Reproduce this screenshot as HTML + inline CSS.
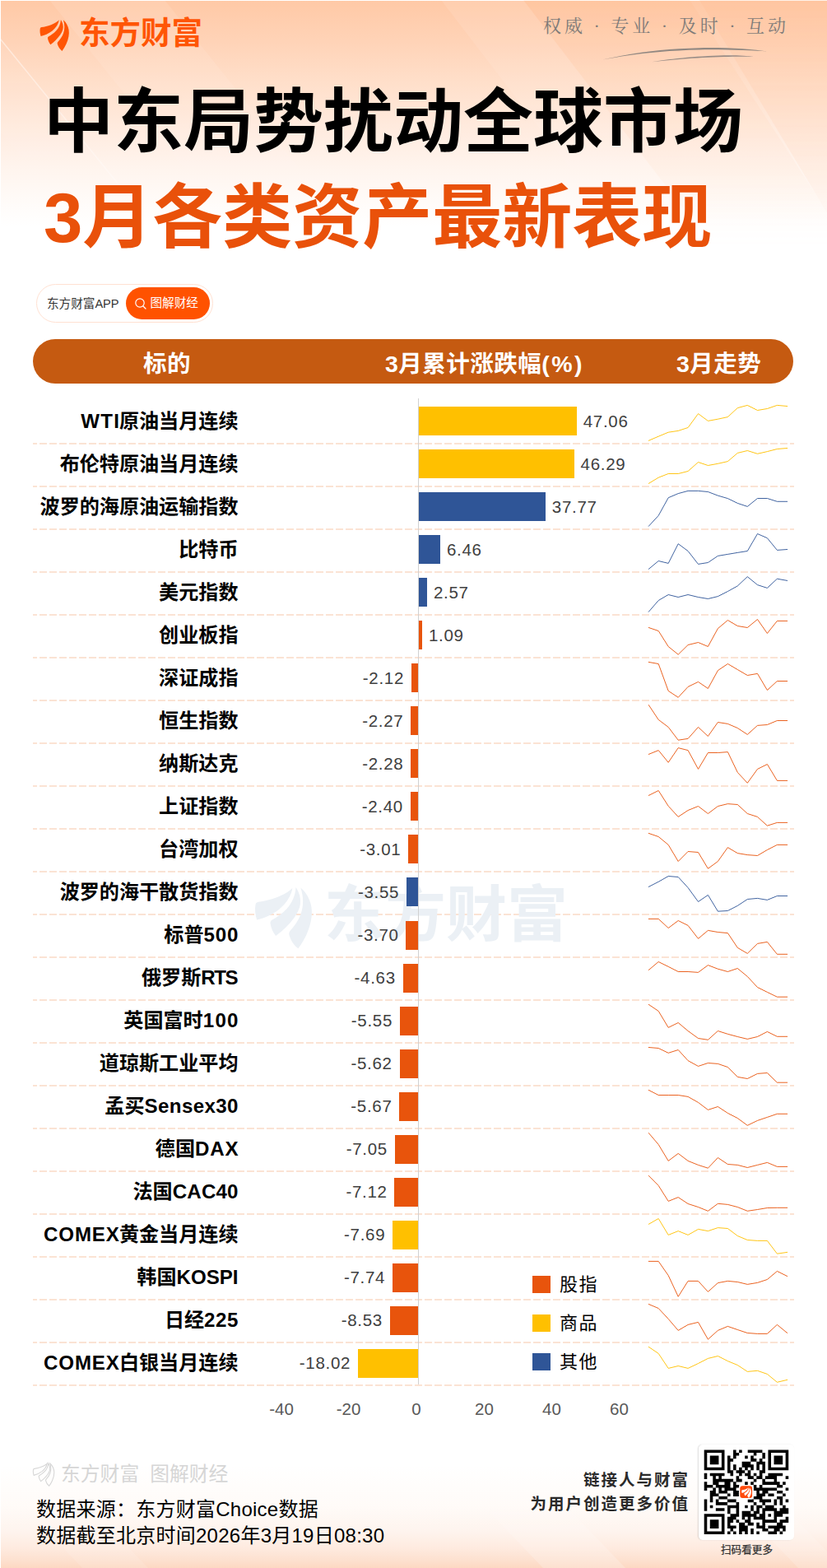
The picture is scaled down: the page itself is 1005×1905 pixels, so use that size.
<!DOCTYPE html>
<html lang="zh-CN">
<head>
<meta charset="utf-8">
<title>中东局势扰动全球市场</title>
<style>
*{margin:0;padding:0;box-sizing:border-box}
html,body{width:1005px;height:1905px;overflow:hidden;background:#fff}
body{font-family:"Liberation Sans","Noto Sans CJK SC",sans-serif;color:#000}
#page{position:relative;width:1005px;height:1905px;overflow:hidden;background:#fff}
.abs{position:absolute}
#bgtop{position:absolute;left:1px;top:1px;width:1004px;height:275px;background:linear-gradient(180deg,#ffc9a6 0%,#ffd3b7 18%,#ffdfca 36%,#ffeadd 55%,#fff4ed 73%,#fffcfa 91%,#ffffff 100%)}
#bgbot{position:absolute;left:1px;top:1780px;width:1004px;height:125px;background:linear-gradient(180deg,#ffffff 0%,#fffbf8 40%,#fef4ee 64%,#feebe0 80%,#fde1d0 92%,#fdd8c2 100%)}
#logo{position:absolute;left:44px;top:18px;width:60px;height:50px}
#logotxt{position:absolute;left:96px;top:14px;font-size:37.5px;line-height:52px;font-weight:700;color:#ff5505;white-space:nowrap}
#slogan{position:absolute;left:660px;top:14px;width:304px;font-family:"Liberation Serif","Noto Serif CJK SC",serif;font-size:22px;line-height:36px;color:#7e7b79;white-space:nowrap;letter-spacing:4px}
h1{position:absolute;left:53px;top:91px;font-size:85px;line-height:116px;font-weight:700;white-space:nowrap;color:#000}
h1 .l2{display:block;color:#e9510a}
h1 .l1{display:block;color:#000}
#pill{position:absolute;left:44px;top:345px;width:215px;height:47px;border:1px solid #ffe1d2;border-radius:24px;background:#fff}
#pill .t1{position:absolute;left:12px;top:0;font-size:14.6px;line-height:47px;color:#333;white-space:nowrap}
#pill .btn{position:absolute;left:108px;top:2.5px;width:102px;height:39.5px;border-radius:20px;background:#ff5200;color:#fff;font-size:14.6px;line-height:39px;white-space:nowrap}
#pill .btn span{position:absolute;left:29.5px;top:0}
#hdr{position:absolute;left:40px;top:412px;width:924px;height:54px;border-radius:27px;background:#c55a11;color:#fff;font-weight:700;font-size:28.5px;line-height:54px;letter-spacing:0.5px}
#hdr span{position:absolute;top:3px;white-space:nowrap}
#hdr span i{font-style:normal;letter-spacing:2.4px}
.dash{position:absolute;left:40px;width:925px;height:2px;background:repeating-linear-gradient(90deg,#fbe3d4 0,#fbe3d4 9px,transparent 9px,transparent 12px);background-position:-4px 0}
.lab{position:absolute;right:715.5px;height:40px;line-height:40px;font-size:24.1px;font-weight:700;white-space:nowrap;text-align:right;color:#000}
.bar{position:absolute;height:35px}
.val{position:absolute;height:28px;line-height:28px;font-size:20.5px;color:#404040;white-space:nowrap;letter-spacing:0.7px}
#axis{position:absolute;left:508px;top:484px;width:1px;height:1198px;background:#d0d0d0}
#sparks{position:absolute;left:0;top:0}
#sparks path{fill:none;stroke-width:0.92;stroke-linejoin:round;stroke-linecap:round}
.xt{position:absolute;top:1698px;width:60px;margin-left:-30px;text-align:center;font-size:20.5px;line-height:28px;color:#595959}
.lg{position:absolute;left:647px;width:22px;height:21px}
.lgt{position:absolute;left:680px;font-size:22px;letter-spacing:1.5px;line-height:30px;color:#000;white-space:nowrap}
#wmk{position:absolute;left:74px;top:1774px;font-size:23.8px;line-height:34px;color:#d6d6d6;white-space:nowrap}
.src{position:absolute;left:44px;font-size:24px;line-height:32px;color:#000;white-space:nowrap;letter-spacing:0.25px}
.tag{position:absolute;right:167px;font-size:19.5px;font-weight:700;line-height:28px;color:#2a2a2a;white-space:nowrap;letter-spacing:2px;text-align:right}
#qr{position:absolute;left:848.5px;top:1754.5px;width:116.5px;height:116px;border-radius:5px;background:#fff;box-shadow:-1px 0 1.5px rgba(120,120,120,.25)}
#qrt{position:absolute;left:849px;top:1873.5px;width:117px;text-align:center;font-size:12.6px;line-height:18px;color:#333;-webkit-text-stroke:0.25px #333}
</style>
</head>
<body>
<div id="page">
<div id="bgtop"></div>
<div id="bgbot"></div>
<svg id="bands" class="abs" style="left:0;top:0" width="1005" height="300" viewBox="0 0 1005 300" aria-hidden="true"><defs><linearGradient id="fd" x1="0" y1="0" x2="0" y2="1"><stop offset="0" stop-color="#fff" stop-opacity="1"/><stop offset="0.75" stop-color="#fff" stop-opacity="0.5"/><stop offset="1" stop-color="#fff" stop-opacity="0"/></linearGradient><mask id="fm"><rect x="0" y="0" width="1005" height="300" fill="url(#fd)"/></mask></defs><g mask="url(#fm)">
<polygon points="536,0 636,0 866,300 766,300" fill="#fff" fill-opacity="0.10"/>
<polygon points="636,0 838,0 1033,300 866,300" fill="#ffa366" fill-opacity="0.08"/>
<polygon points="850,0 1005,0 1005,300 1030,300" fill="#ffb98e" fill-opacity="0.2"/>
<polygon points="60,0 200,0 440,300 300,300" fill="#fff" fill-opacity="0.10"/>
<path d="M0 47 L210 305" stroke="#fff" stroke-opacity="0.55" stroke-width="1.6" fill="none"/>
<polygon points="0,49 0,160 120,300 205,300" fill="#fff" fill-opacity="0.08"/>
</g></svg>
<svg id="bands2" class="abs" style="left:0;top:1780px" width="1005" height="125" viewBox="0 1780 1005 125" aria-hidden="true"><defs><linearGradient id="fd2" x1="0" y1="0" x2="0" y2="1"><stop offset="0" stop-color="#fff" stop-opacity="0"/><stop offset="0.5" stop-color="#fff" stop-opacity="0.5"/><stop offset="1" stop-color="#fff" stop-opacity="1"/></linearGradient><mask id="fm2"><rect x="0" y="1780" width="1005" height="125" fill="url(#fd2)"/></mask></defs><g mask="url(#fm2)">
<polygon points="540,1780 640,1780 760,1905 660,1905" fill="#fff" fill-opacity="0.22"/>
<polygon points="850,1780 905,1780 1005,1885 1005,1905 970,1905" fill="#fff" fill-opacity="0.18"/>
<polygon points="0,1800 0,1780 60,1780 180,1905 100,1905" fill="#fff" fill-opacity="0.12"/>
</g></svg>
<svg id="logo" viewBox="44 18 60 50" aria-hidden="true"><g fill="#ff5505">
<path d="M71.8 24.3 C71.2 28.5 68.5 33.5 63.5 37.6 C59 41 54 43.2 49.6 44.1 C48.6 41 48.2 37.5 48.8 34.6 C49 33.6 49.6 33.2 50.6 33 C54 32.6 58 31.8 62 30.2 C66.5 28.4 70 26.4 71.8 24.3 Z"/>
<path d="M73.9 23.9 C76.2 27.2 77.4 31.5 76.4 35.8 C75.3 40 72 44.5 67.5 49 C65.6 50.8 63.5 52.6 61.4 54.2 C59.6 51.8 58.4 49 58 46.4 C57.9 45.4 58.3 44.7 59.2 44.2 C62 42.6 65.5 40.2 68.3 37.2 C71.6 33.6 73.6 29 73.9 23.9 Z"/>
<path d="M76.9 24.2 C80.2 27 82.8 31.2 83.6 36.2 C84.4 41.5 83.2 47.5 80.6 53.2 C79.2 56.3 77.4 59.3 75.4 62 C72.6 59.8 70.6 56.8 69.8 53.6 C69.5 52.5 69.8 51.6 70.5 50.8 C73 48 75.5 44.5 77 40.5 C78.8 35.6 78.8 30 76.9 24.2 Z"/>
</g></svg>
<div id="logotxt">东方财富</div>
<svg id="slg" class="abs" style="left:650px;top:8px" width="330" height="80" viewBox="650 8 330 80" aria-hidden="true"><g fill="#7e7b79"><path d="M732 72.6 C760 66 800 59.2 850 58.2 C885 57.6 915 60 933 62.6 C915 61.4 885 60 850 60.4 C800 61.4 760 67 732 72.6 Z" opacity="0.85"/><path d="M788 75.8 C810 72 845 68 880 67.2 C895 67 908 67.6 917 69 C905 68.6 895 68.6 880 69 C845 70 810 73 788 75.8 Z" opacity="0.8"/></g></svg>
<div id="slogan">权威 · 专业 · 及时 · 互动</div>
<h1><span class="l1">中东局势扰动全球市场</span><span class="l2">3月各类资产最新表现</span></h1>
<div id="pill"><span class="t1">东方财富APP</span><div class="btn"><svg class="abs" style="left:10px;top:12px" width="16" height="16" viewBox="0 0 16 16"><circle cx="7" cy="7" r="5.2" fill="none" stroke="#fff" stroke-width="1.2"/><path d="M11 11 L14 14" stroke="#fff" stroke-width="1.2" stroke-linecap="round"/></svg><span>图解财经</span></div></div>
<div id="hdr"><span style="left:134px">标的</span><span style="left:428px">3月累计涨跌幅<i>(%)</i></span><span style="left:782px">3月走势</span></div>
<div id="chart">
<div class="dash" style="top:538px"></div>
<div class="dash" style="top:590px"></div>
<div class="dash" style="top:642px"></div>
<div class="dash" style="top:694px"></div>
<div class="dash" style="top:746px"></div>
<div class="dash" style="top:798px"></div>
<div class="dash" style="top:850px"></div>
<div class="dash" style="top:902px"></div>
<div class="dash" style="top:954px"></div>
<div class="dash" style="top:1006px"></div>
<div class="dash" style="top:1058px"></div>
<div class="dash" style="top:1110px"></div>
<div class="dash" style="top:1162px"></div>
<div class="dash" style="top:1214px"></div>
<div class="dash" style="top:1266px"></div>
<div class="dash" style="top:1318px"></div>
<div class="dash" style="top:1370px"></div>
<div class="dash" style="top:1422px"></div>
<div class="dash" style="top:1474px"></div>
<div class="dash" style="top:1526px"></div>
<div class="dash" style="top:1578px"></div>
<div class="dash" style="top:1630px"></div>
<div class="dash" style="top:1682px"></div>
<svg id="cwms" class="abs" style="left:300px;top:1060px" width="410" height="100" viewBox="300 1060 410 100" aria-hidden="true"><g fill="#ebf0f5"><g transform="translate(215.4 1031.4) scale(1.95)"><path d="M71.8 24.3 C71.2 28.5 68.5 33.5 63.5 37.6 C59 41 54 43.2 49.6 44.1 C48.6 41 48.2 37.5 48.8 34.6 C49 33.6 49.6 33.2 50.6 33 C54 32.6 58 31.8 62 30.2 C66.5 28.4 70 26.4 71.8 24.3 Z"/><path d="M73.9 23.9 C76.2 27.2 77.4 31.5 76.4 35.8 C75.3 40 72 44.5 67.5 49 C65.6 50.8 63.5 52.6 61.4 54.2 C59.6 51.8 58.4 49 58 46.4 C57.9 45.4 58.3 44.7 59.2 44.2 C62 42.6 65.5 40.2 68.3 37.2 C71.6 33.6 73.6 29 73.9 23.9 Z"/><path d="M76.9 24.2 C80.2 27 82.8 31.2 83.6 36.2 C84.4 41.5 83.2 47.5 80.6 53.2 C79.2 56.3 77.4 59.3 75.4 62 C72.6 59.8 70.6 56.8 69.8 53.6 C69.5 52.5 69.8 51.6 70.5 50.8 C73 48 75.5 44.5 77 40.5 C78.8 35.6 78.8 30 76.9 24.2 Z"/></g></g></svg>
<div id="cwm" class="abs" style="left:394px;top:1060px;font-size:74px;line-height:104px;font-weight:700;color:#ebf0f5;white-space:nowrap">东方财富</div>
<div class="lab" style="top:491.5px"><span style="letter-spacing:1.2px;margin-right:-1.2px">WTI</span>原油当月连续</div>
<div class="bar" style="left:508.5px;top:494.0px;width:192.2px;background:#FFC000"></div>
<div class="val" style="left:708.7px;top:497.5px">47.06</div>
<div class="lab" style="top:543.5px">布伦特原油当月连续</div>
<div class="bar" style="left:508.5px;top:546.0px;width:189.1px;background:#FFC000"></div>
<div class="val" style="left:705.6px;top:549.5px">46.29</div>
<div class="lab" style="top:595.6px">波罗的海原油运输指数</div>
<div class="bar" style="left:508.5px;top:598.1px;width:154.3px;background:#2F5597"></div>
<div class="val" style="left:670.8px;top:601.6px">37.77</div>
<div class="lab" style="top:647.6px">比特币</div>
<div class="bar" style="left:508.5px;top:650.1px;width:26.4px;background:#2F5597"></div>
<div class="val" style="left:542.9px;top:653.6px">6.46</div>
<div class="lab" style="top:699.7px">美元指数</div>
<div class="bar" style="left:508.5px;top:702.2px;width:10.5px;background:#2F5597"></div>
<div class="val" style="left:527.0px;top:705.7px">2.57</div>
<div class="lab" style="top:751.7px">创业板指</div>
<div class="bar" style="left:508.5px;top:754.2px;width:4.5px;background:#E8540C"></div>
<div class="val" style="left:521.0px;top:757.7px">1.09</div>
<div class="lab" style="top:803.7px">深证成指</div>
<div class="bar" style="left:499.8px;top:806.2px;width:8.7px;background:#E8540C"></div>
<div class="val neg" style="right:514.0px;top:809.7px">-2.12</div>
<div class="lab" style="top:855.8px">恒生指数</div>
<div class="bar" style="left:499.2px;top:858.3px;width:9.3px;background:#E8540C"></div>
<div class="val neg" style="right:514.6px;top:861.8px">-2.27</div>
<div class="lab" style="top:907.8px">纳斯达克</div>
<div class="bar" style="left:499.2px;top:910.3px;width:9.3px;background:#E8540C"></div>
<div class="val neg" style="right:514.6px;top:913.8px">-2.28</div>
<div class="lab" style="top:959.9px">上证指数</div>
<div class="bar" style="left:498.7px;top:962.4px;width:9.8px;background:#E8540C"></div>
<div class="val neg" style="right:515.1px;top:965.9px">-2.40</div>
<div class="lab" style="top:1011.9px">台湾加权</div>
<div class="bar" style="left:496.2px;top:1014.4px;width:12.3px;background:#E8540C"></div>
<div class="val neg" style="right:517.6px;top:1017.9px">-3.01</div>
<div class="lab" style="top:1063.9px">波罗的海干散货指数</div>
<div class="bar" style="left:494.0px;top:1066.4px;width:14.5px;background:#2F5597"></div>
<div class="val neg" style="right:519.8px;top:1069.9px">-3.55</div>
<div class="lab" style="top:1116.0px">标普<span style="letter-spacing:0.9px;margin-right:-0.9px">500</span></div>
<div class="bar" style="left:493.4px;top:1118.5px;width:15.1px;background:#E8540C"></div>
<div class="val neg" style="right:520.4px;top:1122.0px">-3.70</div>
<div class="lab" style="top:1168.0px">俄罗斯<span style="letter-spacing:-1.5px;margin-right:1.5px">RTS</span></div>
<div class="bar" style="left:489.6px;top:1170.5px;width:18.9px;background:#E8540C"></div>
<div class="val neg" style="right:524.2px;top:1174.0px">-4.63</div>
<div class="lab" style="top:1220.1px">英国富时<span style="letter-spacing:1.3px;margin-right:-1.3px">100</span></div>
<div class="bar" style="left:485.8px;top:1222.6px;width:22.7px;background:#E8540C"></div>
<div class="val neg" style="right:528.0px;top:1226.1px">-5.55</div>
<div class="lab" style="top:1272.1px">道琼斯工业平均</div>
<div class="bar" style="left:485.5px;top:1274.6px;width:23.0px;background:#E8540C"></div>
<div class="val neg" style="right:528.3px;top:1278.1px">-5.62</div>
<div class="lab" style="top:1324.1px">孟买<span style="letter-spacing:0.4px;margin-right:-0.4px">Sensex30</span></div>
<div class="bar" style="left:485.3px;top:1326.6px;width:23.2px;background:#E8540C"></div>
<div class="val neg" style="right:528.5px;top:1330.1px">-5.67</div>
<div class="lab" style="top:1376.2px">德国<span style="letter-spacing:0.8px;margin-right:-0.8px">DAX</span></div>
<div class="bar" style="left:479.7px;top:1378.7px;width:28.8px;background:#E8540C"></div>
<div class="val neg" style="right:534.1px;top:1382.2px">-7.05</div>
<div class="lab" style="top:1428.2px">法国<span style="letter-spacing:0.2px;margin-right:-0.2px">CAC40</span></div>
<div class="bar" style="left:479.4px;top:1430.7px;width:29.1px;background:#E8540C"></div>
<div class="val neg" style="right:534.4px;top:1434.2px">-7.12</div>
<div class="lab" style="top:1480.3px"><span style="letter-spacing:0.9px;margin-right:-0.9px">COMEX</span>黄金当月连续</div>
<div class="bar" style="left:477.1px;top:1482.8px;width:31.4px;background:#FFC000"></div>
<div class="val neg" style="right:536.7px;top:1486.3px">-7.69</div>
<div class="lab" style="top:1532.3px">韩国KOSPI</div>
<div class="bar" style="left:476.9px;top:1534.8px;width:31.6px;background:#E8540C"></div>
<div class="val neg" style="right:536.9px;top:1538.3px">-7.74</div>
<div class="lab" style="top:1584.3px">日经<span style="letter-spacing:0.6px;margin-right:-0.6px">225</span></div>
<div class="bar" style="left:473.7px;top:1586.8px;width:34.8px;background:#E8540C"></div>
<div class="val neg" style="right:540.1px;top:1590.3px">-8.53</div>
<div class="lab" style="top:1636.4px"><span style="letter-spacing:0.9px;margin-right:-0.9px">COMEX</span>白银当月连续</div>
<div class="bar" style="left:434.9px;top:1638.9px;width:73.6px;background:#FFC000"></div>
<div class="val neg" style="right:578.9px;top:1642.4px">-18.02</div>
<div id="axis"></div>
<svg id="sparks" width="1005" height="1905" viewBox="0 0 1005 1905">
<path d="M788.3,535.3 L800.2,530.2 L812.2,525.2 L824.2,523.4 L836.1,519.5 L848.5,502.6 L860.4,511.4 L872.4,509.2 L884.4,506.6 L896.3,495.6 L908.3,492.4 L920.5,498.5 L932.4,496.5 L944.4,492.4 L956.7,493.5" stroke="#FFC000"/>
<path d="M788.3,587.4 L800.2,580.2 L812.2,575.5 L824.2,575.5 L836.1,572.5 L848.5,561.5 L860.4,565.5 L872.4,563.3 L884.4,560.6 L896.3,550.4 L908.3,547.5 L920.5,551.3 L932.4,548.6 L944.4,545.5 L956.7,544.5" stroke="#FFC000"/>
<path d="M788.3,639.3 L800.2,626.4 L812.2,604.7 L824.2,599.6 L836.1,596.4 L848.5,596.4 L860.4,597.5 L872.4,602.1 L884.4,605.6 L896.3,611.4 L908.3,615.4 L920.5,605.5 L932.4,605.5 L944.4,609.3 L956.7,609.3" stroke="#2F5597"/>
<path d="M788.3,691.4 L800.2,681.5 L812.2,684.4 L824.2,660.7 L836.1,669.5 L848.5,685.4 L860.4,683.5 L872.4,675.4 L884.4,673.4 L896.3,671.4 L908.3,669.5 L920.5,648.5 L932.4,653.7 L944.4,668.4 L956.7,667.5" stroke="#2F5597"/>
<path d="M788.3,743.3 L800.2,729.5 L812.2,722.5 L824.2,725.5 L836.1,722.5 L848.5,725.5 L860.4,727.5 L872.4,724.6 L884.4,718.5 L896.3,711.9 L908.3,700.6 L920.5,710.6 L932.4,714.4 L944.4,703.2 L956.7,705.4" stroke="#2F5597"/>
<path d="M788.3,762.5 L800.2,766.5 L812.2,785.5 L824.2,795.2 L836.1,783.5 L848.5,780.5 L860.4,785.5 L872.4,763.6 L884.4,753.5 L896.3,760.5 L908.3,762.5 L920.5,752.5 L932.4,769.5 L944.4,754.4 L956.7,754.4" stroke="#E8540C"/>
<path d="M788.3,804.4 L800.2,806.5 L812.2,839.4 L824.2,847.3 L836.1,834.4 L848.5,828.4 L860.4,836.5 L872.4,814.6 L884.4,806.5 L896.3,813.5 L908.3,820.5 L920.5,818.4 L932.4,838.5 L944.4,827.5 L956.7,827.5" stroke="#E8540C"/>
<path d="M788.3,856.5 L800.2,874.4 L812.2,883.4 L824.2,899.2 L836.1,897.4 L848.5,883.4 L860.4,894.5 L872.4,877.5 L884.4,879.4 L896.3,884.5 L908.3,892.4 L920.5,881.4 L932.4,880.5 L944.4,875.5 L956.7,875.5" stroke="#E8540C"/>
<path d="M788.3,916.4 L800.2,911.6 L812.2,926.3 L824.2,908.6 L836.1,911.6 L848.5,934.4 L860.4,914.5 L872.4,914.5 L884.4,913.6 L896.3,938.4 L908.3,951.3 L920.5,934.4 L932.4,928.5 L944.4,948.4 L956.7,948.4" stroke="#E8540C"/>
<path d="M788.3,966.4 L800.2,960.5 L812.2,979.3 L824.2,992.4 L836.1,984.5 L848.5,979.5 L860.4,988.5 L872.4,979.5 L884.4,976.6 L896.3,977.5 L908.3,988.5 L920.5,992.4 L932.4,1003.2 L944.4,999.4 L956.7,999.4" stroke="#E8540C"/>
<path d="M788.3,1012.4 L800.2,1016.5 L812.2,1026.4 L824.2,1046.5 L836.1,1034.5 L848.5,1035.5 L860.4,1055.3 L872.4,1046.5 L884.4,1029.6 L896.3,1036.6 L908.3,1038.6 L920.5,1039.5 L932.4,1032.5 L944.4,1026.4 L956.7,1026.4" stroke="#E8540C"/>
<path d="M788.3,1077.4 L800.2,1071.3 L812.2,1064.5 L824.2,1065.5 L836.1,1078.5 L848.5,1095.5 L860.4,1087.4 L872.4,1107.2 L884.4,1106.5 L896.3,1100.4 L908.3,1092.5 L920.5,1091.4 L932.4,1093.4 L944.4,1088.5 L956.7,1088.5" stroke="#2F5597"/>
<path d="M788.3,1116.4 L800.2,1116.4 L812.2,1127.5 L824.2,1118.5 L836.1,1124.4 L848.5,1140.4 L860.4,1130.4 L872.4,1132.5 L884.4,1133.6 L896.3,1151.4 L908.3,1158.4 L920.5,1146.4 L932.4,1144.4 L944.4,1159.3 L956.7,1159.3" stroke="#E8540C"/>
<path d="M788.3,1178.5 L800.2,1168.5 L812.2,1174.4 L824.2,1180.5 L836.1,1180.5 L848.5,1181.4 L860.4,1172.6 L872.4,1177.2 L884.4,1180.5 L896.3,1176.5 L908.3,1186.4 L920.5,1199.5 L932.4,1205.4 L944.4,1211.2 L956.7,1211.2" stroke="#E8540C"/>
<path d="M788.3,1220.4 L800.2,1228.4 L812.2,1248.4 L824.2,1242.5 L836.1,1252.5 L848.5,1261.5 L860.4,1263.3 L872.4,1252.5 L884.4,1256.3 L896.3,1259.5 L908.3,1262.4 L920.5,1259.5 L932.4,1253.4 L944.4,1259.3 L956.7,1259.3" stroke="#E8540C"/>
<path d="M788.3,1272.5 L800.2,1273.5 L812.2,1279.3 L824.2,1275.5 L836.1,1288.6 L848.5,1295.4 L860.4,1291.5 L872.4,1292.4 L884.4,1296.5 L896.3,1308.4 L908.3,1310.5 L920.5,1304.4 L932.4,1303.5 L944.4,1315.2 L956.7,1315.2" stroke="#E8540C"/>
<path d="M788.3,1324.4 L800.2,1330.5 L812.2,1330.5 L824.2,1330.5 L836.1,1332.4 L848.5,1339.4 L860.4,1348.4 L872.4,1344.5 L884.4,1352.4 L896.3,1358.5 L908.3,1367.3 L920.5,1361.4 L932.4,1357.4 L944.4,1353.3 L956.7,1353.3" stroke="#E8540C"/>
<path d="M788.3,1376.5 L800.2,1390.5 L812.2,1410.4 L824.2,1401.4 L836.1,1410.4 L848.5,1415.4 L860.4,1419.2 L872.4,1406.5 L884.4,1414.5 L896.3,1415.4 L908.3,1418.5 L920.5,1415.4 L932.4,1412.4 L944.4,1417.4 L956.7,1417.4" stroke="#E8540C"/>
<path d="M788.3,1428.4 L800.2,1440.4 L812.2,1459.4 L824.2,1454.6 L836.1,1462.5 L848.5,1466.5 L860.4,1471.3 L872.4,1462.3 L884.4,1463.4 L896.3,1466.5 L908.3,1471.3 L920.5,1469.5 L932.4,1467.5 L944.4,1467.3 L956.7,1467.3" stroke="#E8540C"/>
<path d="M788.3,1487.3 L800.2,1480.5 L812.2,1500.4 L824.2,1495.6 L836.1,1500.4 L848.5,1493.4 L860.4,1495.6 L872.4,1491.6 L884.4,1492.5 L896.3,1501.5 L908.3,1506.5 L920.5,1507.4 L932.4,1507.4 L944.4,1523.2 L956.7,1521.4" stroke="#FFC000"/>
<path d="M788.3,1532.4 L800.2,1532.4 L812.2,1549.6 L824.2,1575.3 L836.1,1556.4 L848.5,1556.4 L860.4,1569.4 L872.4,1558.6 L884.4,1556.4 L896.3,1557.5 L908.3,1560.4 L920.5,1558.4 L932.4,1554.5 L944.4,1544.4 L956.7,1550.5" stroke="#E8540C"/>
<path d="M788.3,1584.5 L800.2,1589.5 L812.2,1602.4 L824.2,1616.4 L836.1,1609.4 L848.5,1606.4 L860.4,1627.2 L872.4,1616.4 L884.4,1611.4 L896.3,1615.5 L908.3,1619.5 L920.5,1620.4 L932.4,1620.4 L944.4,1609.4 L956.7,1619.5" stroke="#E8540C"/>
<path d="M788.3,1636.4 L800.2,1644.4 L812.2,1662.4 L824.2,1659.5 L836.1,1662.4 L848.5,1656.5 L860.4,1650.4 L872.4,1647.5 L884.4,1653.6 L896.3,1658.5 L908.3,1666.4 L920.5,1665.3 L932.4,1669.4 L944.4,1679.3 L956.7,1676.4" stroke="#FFC000"/>
</svg>
</div>
<div class="xt" style="left:342px">-40</div>
<div class="xt" style="left:423.5px">-20</div>
<div class="xt" style="left:506px">0</div>
<div class="xt" style="left:588.5px">20</div>
<div class="xt" style="left:670.5px">40</div>
<div class="xt" style="left:752.5px">60</div>
<div class="lg" style="top:1550px;background:#e8540c"></div><div class="lgt" style="top:1546px">股指</div>
<div class="lg" style="top:1597px;background:#ffc000"></div><div class="lgt" style="top:1593px">商品</div>
<div class="lg" style="top:1644px;background:#2f5597"></div><div class="lgt" style="top:1640px">其他</div>
<svg class="abs" style="left:36px;top:1772px" width="36" height="40" viewBox="36 1772 36 40" aria-hidden="true"><g fill="none" stroke="#d6d6d6" stroke-width="1.5" transform="translate(5.4 1760.6) scale(0.72)"><path d="M71.8 24.3 C71.2 28.5 68.5 33.5 63.5 37.6 C59 41 54 43.2 49.6 44.1 C48.6 41 48.2 37.5 48.8 34.6 C49 33.6 49.6 33.2 50.6 33 C54 32.6 58 31.8 62 30.2 C66.5 28.4 70 26.4 71.8 24.3 Z"/><path d="M73.9 23.9 C76.2 27.2 77.4 31.5 76.4 35.8 C75.3 40 72 44.5 67.5 49 C65.6 50.8 63.5 52.6 61.4 54.2 C59.6 51.8 58.4 49 58 46.4 C57.9 45.4 58.3 44.7 59.2 44.2 C62 42.6 65.5 40.2 68.3 37.2 C71.6 33.6 73.6 29 73.9 23.9 Z"/><path d="M76.9 24.2 C80.2 27 82.8 31.2 83.6 36.2 C84.4 41.5 83.2 47.5 80.6 53.2 C79.2 56.3 77.4 59.3 75.4 62 C72.6 59.8 70.6 56.8 69.8 53.6 C69.5 52.5 69.8 51.6 70.5 50.8 C73 48 75.5 44.5 77 40.5 C78.8 35.6 78.8 30 76.9 24.2 Z"/></g></svg><div id="wmk"><span>东方财富</span><span style="margin-left:13px">图解财经</span></div>
<div class="src" style="top:1818px">数据来源：东方财富Choice数据</div>
<div class="src" style="top:1850px">数据截至北京时间2026年3月19日08:30</div>
<div class="tag" style="top:1784px">链接人与财富</div>
<div class="tag" style="top:1813px">为用户创造更多价值</div>
<div id="qr"></div><svg id="qrs" class="abs" style="left:847px;top:1754px" width="118" height="118" viewBox="847 1754 118 118" aria-hidden="true"><path d="M855.70 1761.50h24.79v3.58h-24.79zM891.04 1761.50h3.58v3.58h-3.58zM898.11 1761.50h3.58v3.58h-3.58zM908.71 1761.50h17.72v3.58h-17.72zM933.45 1761.50h24.79v3.58h-24.79zM855.70 1765.03h3.58v3.58h-3.58zM876.90 1765.03h3.58v3.58h-3.58zM891.04 1765.03h7.12v3.58h-7.12zM915.78 1765.03h3.58v3.58h-3.58zM926.38 1765.03h3.58v3.58h-3.58zM933.45 1765.03h3.58v3.58h-3.58zM954.65 1765.03h3.58v3.58h-3.58zM855.70 1768.57h3.58v3.58h-3.58zM862.77 1768.57h10.65v3.58h-10.65zM876.90 1768.57h3.58v3.58h-3.58zM883.97 1768.57h3.58v3.58h-3.58zM891.04 1768.57h3.58v3.58h-3.58zM905.18 1768.57h3.58v3.58h-3.58zM912.24 1768.57h3.58v3.58h-3.58zM926.38 1768.57h3.58v3.58h-3.58zM933.45 1768.57h3.58v3.58h-3.58zM940.52 1768.57h10.65v3.58h-10.65zM954.65 1768.57h3.58v3.58h-3.58zM855.70 1772.10h3.58v3.58h-3.58zM862.77 1772.10h10.65v3.58h-10.65zM876.90 1772.10h3.58v3.58h-3.58zM883.97 1772.10h7.12v3.58h-7.12zM912.24 1772.10h7.12v3.58h-7.12zM922.85 1772.10h3.58v3.58h-3.58zM933.45 1772.10h3.58v3.58h-3.58zM940.52 1772.10h10.65v3.58h-10.65zM954.65 1772.10h3.58v3.58h-3.58zM855.70 1775.64h3.58v3.58h-3.58zM862.77 1775.64h10.65v3.58h-10.65zM876.90 1775.64h3.58v3.58h-3.58zM883.97 1775.64h3.58v3.58h-3.58zM901.64 1775.64h10.65v3.58h-10.65zM919.31 1775.64h10.65v3.58h-10.65zM933.45 1775.64h3.58v3.58h-3.58zM940.52 1775.64h10.65v3.58h-10.65zM954.65 1775.64h3.58v3.58h-3.58zM855.70 1779.17h3.58v3.58h-3.58zM876.90 1779.17h3.58v3.58h-3.58zM883.97 1779.17h3.58v3.58h-3.58zM891.04 1779.17h3.58v3.58h-3.58zM901.64 1779.17h14.19v3.58h-14.19zM919.31 1779.17h3.58v3.58h-3.58zM926.38 1779.17h3.58v3.58h-3.58zM933.45 1779.17h3.58v3.58h-3.58zM954.65 1779.17h3.58v3.58h-3.58zM855.70 1782.70h24.79v3.58h-24.79zM883.97 1782.70h3.58v3.58h-3.58zM891.04 1782.70h3.58v3.58h-3.58zM898.11 1782.70h3.58v3.58h-3.58zM905.18 1782.70h3.58v3.58h-3.58zM912.24 1782.70h3.58v3.58h-3.58zM919.31 1782.70h3.58v3.58h-3.58zM926.38 1782.70h3.58v3.58h-3.58zM933.45 1782.70h24.79v3.58h-24.79zM883.97 1786.24h7.12v3.58h-7.12zM894.57 1786.24h10.65v3.58h-10.65zM908.71 1786.24h3.58v3.58h-3.58zM922.85 1786.24h7.12v3.58h-7.12zM855.70 1789.77h3.58v3.58h-3.58zM862.77 1789.77h17.72v3.58h-17.72zM887.51 1789.77h3.58v3.58h-3.58zM898.11 1789.77h3.58v3.58h-3.58zM905.18 1789.77h7.12v3.58h-7.12zM915.78 1789.77h3.58v3.58h-3.58zM922.85 1789.77h3.58v3.58h-3.58zM933.45 1789.77h17.72v3.58h-17.72zM855.70 1793.31h3.58v3.58h-3.58zM866.30 1793.31h3.58v3.58h-3.58zM873.37 1793.31h3.58v3.58h-3.58zM894.57 1793.31h3.58v3.58h-3.58zM908.71 1793.31h7.12v3.58h-7.12zM919.31 1793.31h7.12v3.58h-7.12zM929.91 1793.31h14.19v3.58h-14.19zM954.65 1793.31h3.58v3.58h-3.58zM866.30 1796.84h24.79v3.58h-24.79zM894.57 1796.84h7.12v3.58h-7.12zM915.78 1796.84h3.58v3.58h-3.58zM926.38 1796.84h3.58v3.58h-3.58zM940.52 1796.84h3.58v3.58h-3.58zM855.70 1800.37h3.58v3.58h-3.58zM866.30 1800.37h7.12v3.58h-7.12zM880.44 1800.37h7.12v3.58h-7.12zM891.04 1800.37h3.58v3.58h-3.58zM905.18 1800.37h3.58v3.58h-3.58zM912.24 1800.37h3.58v3.58h-3.58zM926.38 1800.37h21.25v3.58h-21.25zM951.12 1800.37h3.58v3.58h-3.58zM855.70 1803.91h10.65v3.58h-10.65zM869.84 1803.91h17.72v3.58h-17.72zM891.04 1803.91h7.12v3.58h-7.12zM915.78 1803.91h3.58v3.58h-3.58zM922.85 1803.91h3.58v3.58h-3.58zM944.05 1803.91h7.12v3.58h-7.12zM855.70 1807.44h3.58v3.58h-3.58zM866.30 1807.44h3.58v3.58h-3.58zM873.37 1807.44h3.58v3.58h-3.58zM880.44 1807.44h14.19v3.58h-14.19zM915.78 1807.44h28.32v3.58h-28.32zM954.65 1807.44h3.58v3.58h-3.58zM862.77 1810.98h7.12v3.58h-7.12zM873.37 1810.98h10.65v3.58h-10.65zM891.04 1810.98h7.12v3.58h-7.12zM919.31 1810.98h3.58v3.58h-3.58zM926.38 1810.98h7.12v3.58h-7.12zM944.05 1810.98h7.12v3.58h-7.12zM862.77 1814.51h10.65v3.58h-10.65zM883.97 1814.51h3.58v3.58h-3.58zM891.04 1814.51h7.12v3.58h-7.12zM919.31 1814.51h10.65v3.58h-10.65zM933.45 1814.51h7.12v3.58h-7.12zM951.12 1814.51h3.58v3.58h-3.58zM862.77 1818.04h3.58v3.58h-3.58zM873.37 1818.04h10.65v3.58h-10.65zM915.78 1818.04h10.65v3.58h-10.65zM944.05 1818.04h7.12v3.58h-7.12zM855.70 1821.58h3.58v3.58h-3.58zM862.77 1821.58h3.58v3.58h-3.58zM869.84 1821.58h3.58v3.58h-3.58zM883.97 1821.58h10.65v3.58h-10.65zM908.71 1821.58h7.12v3.58h-7.12zM922.85 1821.58h14.19v3.58h-14.19zM940.52 1821.58h3.58v3.58h-3.58zM947.58 1821.58h3.58v3.58h-3.58zM954.65 1821.58h3.58v3.58h-3.58zM855.70 1825.11h3.58v3.58h-3.58zM869.84 1825.11h14.19v3.58h-14.19zM894.57 1825.11h3.58v3.58h-3.58zM915.78 1825.11h3.58v3.58h-3.58zM926.38 1825.11h3.58v3.58h-3.58zM940.52 1825.11h3.58v3.58h-3.58zM947.58 1825.11h3.58v3.58h-3.58zM855.70 1828.65h3.58v3.58h-3.58zM862.77 1828.65h3.58v3.58h-3.58zM883.97 1828.65h14.19v3.58h-14.19zM905.18 1828.65h3.58v3.58h-3.58zM912.24 1828.65h3.58v3.58h-3.58zM919.31 1828.65h7.12v3.58h-7.12zM929.91 1828.65h10.65v3.58h-10.65zM951.12 1828.65h3.58v3.58h-3.58zM855.70 1832.18h3.58v3.58h-3.58zM869.84 1832.18h10.65v3.58h-10.65zM883.97 1832.18h3.58v3.58h-3.58zM894.57 1832.18h3.58v3.58h-3.58zM912.24 1832.18h3.58v3.58h-3.58zM919.31 1832.18h3.58v3.58h-3.58zM926.38 1832.18h17.72v3.58h-17.72zM947.58 1832.18h10.65v3.58h-10.65zM883.97 1835.71h3.58v3.58h-3.58zM894.57 1835.71h3.58v3.58h-3.58zM901.64 1835.71h10.65v3.58h-10.65zM915.78 1835.71h7.12v3.58h-7.12zM926.38 1835.71h3.58v3.58h-3.58zM940.52 1835.71h17.72v3.58h-17.72zM855.70 1839.25h24.79v3.58h-24.79zM887.51 1839.25h10.65v3.58h-10.65zM901.64 1839.25h17.72v3.58h-17.72zM922.85 1839.25h7.12v3.58h-7.12zM933.45 1839.25h3.58v3.58h-3.58zM940.52 1839.25h10.65v3.58h-10.65zM855.70 1842.78h3.58v3.58h-3.58zM876.90 1842.78h3.58v3.58h-3.58zM883.97 1842.78h10.65v3.58h-10.65zM901.64 1842.78h3.58v3.58h-3.58zM908.71 1842.78h3.58v3.58h-3.58zM915.78 1842.78h14.19v3.58h-14.19zM940.52 1842.78h3.58v3.58h-3.58zM954.65 1842.78h3.58v3.58h-3.58zM855.70 1846.32h3.58v3.58h-3.58zM862.77 1846.32h10.65v3.58h-10.65zM876.90 1846.32h3.58v3.58h-3.58zM883.97 1846.32h7.12v3.58h-7.12zM894.57 1846.32h3.58v3.58h-3.58zM905.18 1846.32h7.12v3.58h-7.12zM926.38 1846.32h17.72v3.58h-17.72zM947.58 1846.32h10.65v3.58h-10.65zM855.70 1849.85h3.58v3.58h-3.58zM862.77 1849.85h10.65v3.58h-10.65zM876.90 1849.85h3.58v3.58h-3.58zM883.97 1849.85h3.58v3.58h-3.58zM898.11 1849.85h7.12v3.58h-7.12zM908.71 1849.85h7.12v3.58h-7.12zM919.31 1849.85h3.58v3.58h-3.58zM926.38 1849.85h3.58v3.58h-3.58zM944.05 1849.85h7.12v3.58h-7.12zM855.70 1853.38h3.58v3.58h-3.58zM862.77 1853.38h10.65v3.58h-10.65zM876.90 1853.38h3.58v3.58h-3.58zM883.97 1853.38h10.65v3.58h-10.65zM898.11 1853.38h10.65v3.58h-10.65zM919.31 1853.38h10.65v3.58h-10.65zM933.45 1853.38h21.25v3.58h-21.25zM855.70 1856.92h3.58v3.58h-3.58zM876.90 1856.92h3.58v3.58h-3.58zM887.51 1856.92h3.58v3.58h-3.58zM898.11 1856.92h10.65v3.58h-10.65zM912.24 1856.92h3.58v3.58h-3.58zM926.38 1856.92h7.12v3.58h-7.12zM940.52 1856.92h7.12v3.58h-7.12zM951.12 1856.92h3.58v3.58h-3.58zM855.70 1860.45h24.79v3.58h-24.79zM883.97 1860.45h3.58v3.58h-3.58zM891.04 1860.45h3.58v3.58h-3.58zM898.11 1860.45h3.58v3.58h-3.58zM905.18 1860.45h3.58v3.58h-3.58zM912.24 1860.45h3.58v3.58h-3.58zM919.31 1860.45h3.58v3.58h-3.58zM933.45 1860.45h10.65v3.58h-10.65zM947.58 1860.45h3.58v3.58h-3.58z" fill="#000" shape-rendering="auto"/><rect x="897.9" y="1803.9" width="17.6" height="17.6" rx="3.6" fill="#fff"/><rect x="899.3" y="1805.3" width="14.8" height="14.8" rx="3" fill="#ff4a0a"/><g fill="#fff" transform="translate(900.4 1806.7) scale(0.33) translate(-46 -22)"><path d="M71.8 24.3 C71.2 28.5 68.5 33.5 63.5 37.6 C59 41 54 43.2 49.6 44.1 C48.6 41 48.2 37.5 48.8 34.6 C49 33.6 49.6 33.2 50.6 33 C54 32.6 58 31.8 62 30.2 C66.5 28.4 70 26.4 71.8 24.3 Z"/><path d="M73.9 23.9 C76.2 27.2 77.4 31.5 76.4 35.8 C75.3 40 72 44.5 67.5 49 C65.6 50.8 63.5 52.6 61.4 54.2 C59.6 51.8 58.4 49 58 46.4 C57.9 45.4 58.3 44.7 59.2 44.2 C62 42.6 65.5 40.2 68.3 37.2 C71.6 33.6 73.6 29 73.9 23.9 Z"/><path d="M76.9 24.2 C80.2 27 82.8 31.2 83.6 36.2 C84.4 41.5 83.2 47.5 80.6 53.2 C79.2 56.3 77.4 59.3 75.4 62 C72.6 59.8 70.6 56.8 69.8 53.6 C69.5 52.5 69.8 51.6 70.5 50.8 C73 48 75.5 44.5 77 40.5 C78.8 35.6 78.8 30 76.9 24.2 Z"/></g></svg>

<div id="qrt">扫码看更多</div>
</div>
</body>
</html>
